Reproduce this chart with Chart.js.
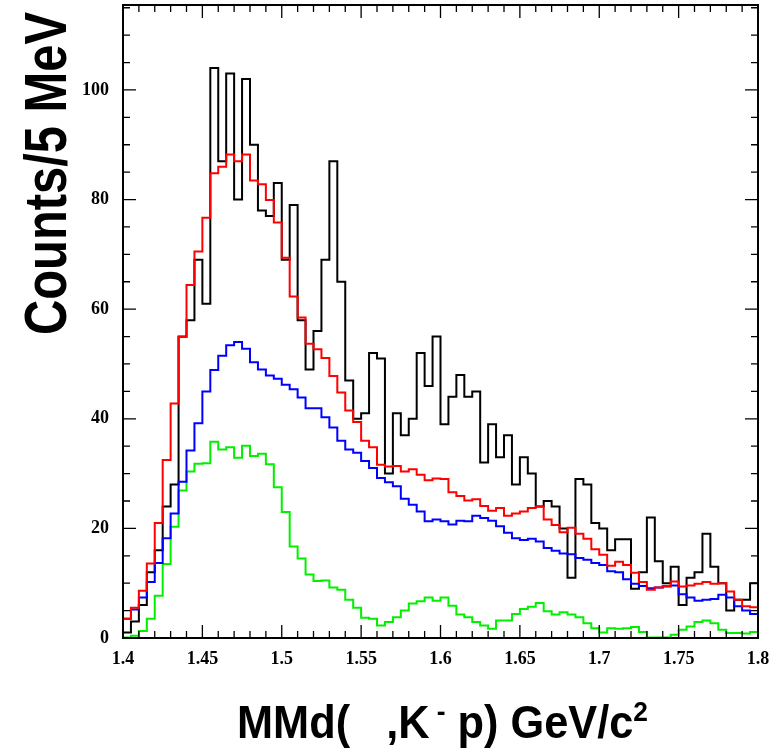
<!DOCTYPE html>
<html lang="en">
<head>
<meta charset="UTF-8">
<title>MMd(,K-p) spectrum</title>
<script src="https://cdn.jsdelivr.net/npm/chart.js"></script>
<style>
    body { margin: 0; background: #fff; }
    #wrap { width: 779px; height: 752px; }
</style>
</head>
<body>
<div id="wrap"><canvas id="histo" width="779" height="752"></canvas></div>
<script>
// 5 MeV bins, 1.40 - 1.80 GeV/c^2
const binStart = 1.4;
const binWidth = 0.005;

// measured counts (black)
const dataCounts = [
    1, 3, 6, 12, 16, 24, 28, 55, 58, 69,
    61, 104, 87, 103, 80, 102, 90, 78, 77, 83,
    69, 79, 58, 49, 56, 69, 87, 65, 47, 40,
    41, 52, 51, 30, 41, 37, 40, 52, 46, 55,
    39, 44, 48, 44, 45, 32, 39, 33, 37, 28,
    33, 30, 24, 25, 24, 20, 11, 29, 28, 21,
    20, 16, 18, 18, 9, 12, 22, 14, 10, 13,
    6, 11, 12, 19, 13, 10, 5, 7, 7, 10
];
// total fit (red)
const fitTotal = [
    3.5, 5.5, 8.6, 13.6, 21, 32.5, 42.8, 54.9, 64.4, 70.5,
    76.7, 84.8, 86, 88.2, 87, 88.2, 83.5, 82.8, 79.9, 75.8,
    69.4, 62.3, 58.5, 53.7, 52.7, 51.1, 47.8, 44.8, 41.5, 39.4,
    36, 34.8, 31.6, 31.3, 31.4, 30.4, 30.8, 29.8, 28.8, 29.1,
    29, 26.6, 25.9, 25.1, 25.3, 24.1, 23.2, 23.7, 22.3, 22.7,
    23.1, 23.7, 24, 21.6, 20.6, 19.3, 20.1, 19, 18.1, 16.2,
    15.2, 13.2, 13.9, 13.3, 11.9, 10.2, 8.8, 9.2, 9.5, 10.3,
    9.4, 9.6, 9.9, 10.2, 9.9, 10, 8.5, 7, 5.8, 5.6
];
// component (blue)
const fitBlue = [
    3.5, 5.2, 7.4, 10.2, 13.7, 18.2, 22.7, 28.5, 34.2, 39.2,
    45, 48.9, 51.5, 53.4, 54, 52.8, 50.3, 49, 47.9, 47.3,
    46.2, 45.4, 43.9, 41.9, 41.9, 40.3, 38.4, 36, 34.4, 33.8,
    32.3, 31, 29.2, 28.4, 27.7, 25.4, 24.3, 23.1, 21.3, 21.6,
    21.3, 20.7, 21.4, 21.3, 22.3, 21.9, 21.4, 20.4, 19.2, 18.2,
    17.9, 18.1, 17.6, 16.4, 15.9, 15.4, 15.3, 14.6, 14.3, 13.7,
    13.3, 12.2, 12, 10.7, 9.9, 9.5, 9.1, 9.2, 9.4, 9.6,
    8, 7.4, 6.8, 7, 7.1, 7.9, 7.4, 5.8, 5, 4.4
];
// component (green)
const fitGreen = [
    0.1, 0.4, 1.3, 3.5, 7.7, 13.5, 20.3, 26.9, 30.4, 31.8,
    31.9, 35.8, 34.4, 34.8, 32.9, 35.1, 33.2, 33.6, 31.7, 27.5,
    23, 16.7, 14.5, 11.6, 10.4, 10.5, 9.2, 8.8, 7, 5.5,
    3.7, 3.5, 2.3, 2.9, 3.8, 5, 6.3, 6.7, 7.4, 6.8,
    7.4, 5.9, 4.3, 3.8, 2.9, 2.3, 1.7, 3.2, 3.2, 4.4,
    5.3, 5.7, 6.4, 4.9, 4.3, 4.7, 4.3, 3.8, 2.7, 1.8,
    1, 1.8, 1.7, 1.8, 2, 1.1, 0.1, 0.1, 0.1, 0.6,
    1.5, 2.1, 2.9, 3.2, 2.7, 1.5, 0.9, 0.9, 0.8, 1.1
];

const xTickValues = [1.4, 1.45, 1.5, 1.55, 1.6, 1.65, 1.7, 1.75, 1.8];
const xTickLabels = ['1.4', '1.45', '1.5', '1.55', '1.6', '1.65', '1.7', '1.75', '1.8'];
const yTickValues = [0, 20, 40, 60, 80, 100];
const yTickLabels = ['0', '20', '40', '60', '80', '100'];
const xMinorStep = 0.01;
const yMinorStep = 5;
const xMin = 1.4, xMax = 1.8, yMin = 0, yMax = 115.5;

// bin edges -> step points (last value repeated at the right edge)
function toSteps(values) {
    const pts = values.map((v, i) => ({ x: binStart + i * binWidth, y: v }));
    pts.push({ x: binStart + values.length * binWidth, y: values[values.length - 1] });
    return pts;
}

function histSet(label, values, color, order) {
    return {
        label: label,
        data: toSteps(values),
        borderColor: color,
        borderWidth: 2,
        pointRadius: 0,
        fill: false,
        stepped: 'before',   // value of a point holds until the next edge
        order: order
    };
}

// frame, inward ticks on all four sides, axis titles
const framePlugin = {
    id: 'frame',
    afterDatasetsDraw(chart) {
        const { ctx, chartArea: a, scales: { x, y } } = chart;
        ctx.save();
        ctx.strokeStyle = '#000';
        ctx.lineWidth = 1.3;
        ctx.beginPath();
        const nx = Math.round((xMax - xMin) / xMinorStep);
        for (let k = 0; k <= nx; k++) {
            const px = x.getPixelForValue(xMin + k * xMinorStep);
            const len = k % 5 === 0 ? 13 : 7;
            ctx.moveTo(px, a.bottom); ctx.lineTo(px, a.bottom - len);
            ctx.moveTo(px, a.top); ctx.lineTo(px, a.top + len);
        }
        const ny = Math.floor((yMax - yMin) / yMinorStep);
        for (let k = 0; k <= ny; k++) {
            const py = y.getPixelForValue(yMin + k * yMinorStep);
            const len = k % 4 === 0 ? 13 : 7;
            ctx.moveTo(a.left, py); ctx.lineTo(a.left + len, py);
            ctx.moveTo(a.right, py); ctx.lineTo(a.right - len, py);
        }
        ctx.stroke();
        ctx.lineWidth = 2;
        ctx.strokeRect(a.left, a.top, a.right - a.left, a.bottom - a.top);
        ctx.restore();
    },
    afterDraw(chart) {
        const ctx = chart.ctx;
        const a = chart.chartArea;
        ctx.save();
        ctx.fillStyle = '#000';
        ctx.textBaseline = 'alphabetic';
        ctx.textAlign = 'left';

        // y title, rotated
        ctx.save();
        ctx.font = 'bold 60px "Liberation Sans", Arial, sans-serif';
        const yt = 'Counts/5 MeV';
        const yw = ctx.measureText(yt).width;
        ctx.translate(a.left - 57, a.top + 330);
        ctx.rotate(-Math.PI / 2);
        ctx.scale(323 / yw, 1);
        ctx.fillText(yt, 0, 0);
        ctx.restore();

        // x title with superscripts
        const parts = [
            { t: 'MMd(   ,K', sup: false },
            { t: ' -', sup: true },
            { t: ' p) GeV/c', sup: false },
            { t: '2', sup: true }
        ];
        const big = 'bold 46px "Liberation Sans", Arial, sans-serif';
        const small = 'bold 28px "Liberation Sans", Arial, sans-serif';
        let total = 0;
        parts.forEach(p => {
            ctx.font = p.sup ? small : big;
            p.w = ctx.measureText(p.t).width;
            total += p.w;
        });
        ctx.save();
        ctx.translate(237, a.bottom + 100);
        ctx.scale(411 / total, 1);
        let cx = 0;
        parts.forEach(p => {
            ctx.font = p.sup ? small : big;
            ctx.fillText(p.t, cx, p.sup ? -17 : 0);
            cx += p.w;
        });
        ctx.restore();
        ctx.restore();
    }
};

const tickFont = { family: '"Liberation Serif", "Times New Roman", serif', weight: 'bold', size: 18 };

new Chart(document.getElementById('histo'), {
    type: 'line',
    data: {
        datasets: [
            histSet('fit', fitTotal, '#ff0000', 1),
            histSet('blue', fitBlue, '#0000ff', 2),
            histSet('green', fitGreen, '#00f000', 3),
            histSet('data', dataCounts, '#000000', 4)
        ]
    },
    options: {
        responsive: false,
        animation: false,
        layout: { padding: { top: 5, right: 21, left: 0, bottom: 0 } },
        plugins: {
            legend: { display: false },
            tooltip: { enabled: false }
        },
        scales: {
            x: {
                type: 'linear',
                min: xMin,
                max: xMax,
                grid: { display: false },
                border: { display: false },
                afterBuildTicks: s => { s.ticks = xTickValues.map(v => ({ value: v })); },
                afterFit: s => { s.height = 114; s.paddingLeft = 0; s.paddingRight = 0; },
                ticks: {
                    autoSkip: false,
                    maxRotation: 0,
                    padding: 3,
                    color: '#000',
                    font: tickFont,
                    callback: (v, i) => xTickLabels[i]
                }
            },
            y: {
                min: yMin,
                max: yMax,
                grid: { display: false },
                border: { display: false },
                afterBuildTicks: s => { s.ticks = yTickValues.map(v => ({ value: v })); },
                afterFit: s => { s.width = 123; s.paddingTop = 0; s.paddingBottom = 0; },
                ticks: {
                    autoSkip: false,
                    padding: 6,
                    color: '#000',
                    font: tickFont,
                    callback: (v, i) => yTickLabels[i]
                }
            }
        }
    },
    plugins: [framePlugin]
});
</script>
</body>
</html>
